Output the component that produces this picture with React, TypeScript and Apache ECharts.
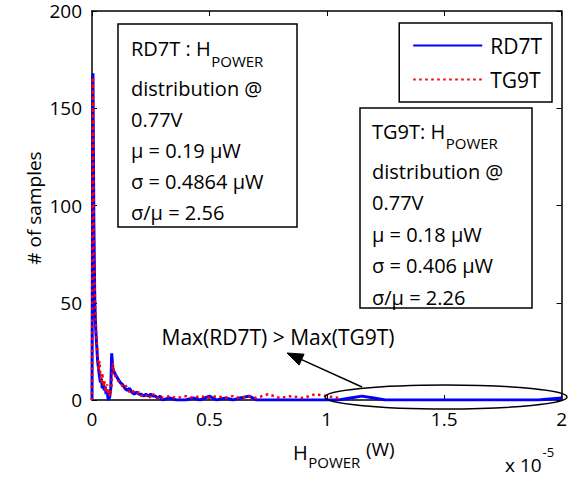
import React, { useEffect, useRef } from "react";
import * as echarts from "echarts";

// H_POWER bins, in units of 1e-5 W
const powerBins = [
  0, 0.004, 0.008, 0.012, 0.016,
  0.02, 0.024, 0.028, 0.032, 0.036,
  0.04, 0.044, 0.048, 0.052, 0.056,
  0.06, 0.064, 0.068, 0.072, 0.076,
  0.08, 0.084, 0.088, 0.092, 0.096,
  0.1, 0.11, 0.12, 0.13, 0.14,
  0.15, 0.16, 0.17, 0.18, 0.19,
  0.2, 0.21, 0.22, 0.23, 0.24,
  0.25, 0.26, 0.27, 0.28, 0.29,
  0.3, 0.33, 0.36, 0.4, 0.43,
  0.46, 0.5, 0.53, 0.57, 0.6,
  0.63, 0.67, 0.7, 0.75, 0.8,
  0.85, 0.9, 0.95, 1.0, 1.05,
  1.1, 1.15, 1.2, 1.25, 1.3,
  1.4, 1.5, 1.6, 1.7, 1.8,
  1.9, 1.95, 2.0,
];

// # of samples, RD7T
const rd7tCounts = [
  0, 168, 90, 50, 36,
  28, 20, 16, 12, 9,
  11, 6, 9, 5, 7,
  3, 5, 1, 0, 2,
  6, 24, 17, 15, 14,
  13, 11, 9, 8, 6,
  5, 6, 4, 3, 4,
  3, 3, 2, 3, 2,
  3, 2, 2, 1, 2,
  0, 1, 0, 0, 1,
  0, 2, 0, 1, 0,
  1, 2, 0, 0, 0,
  0, 0, 0, 0, 0,
  1, 2, 1, 0, 0,
  0, 0, 0, 0, 0,
  0, 0.5, 1,
];

// # of samples, TG9T (ends near 1.05e-5 W)
const tg9tCounts = [
  0, 166, 85, 55, 40,
  30, 24, 15, 20, 12,
  9, 14, 7, 10, 6,
  4, 8, 3, 5, 2,
  4, 8, 19, 16, 13,
  12, 10, 9, 7, 8,
  6, 4, 5, 4, 3,
  4, 2, 3, 2, 3,
  1, 3, 2, 1, 2,
  1, 2, 1, 2, 1,
  2, 1, 2, 1, 2,
  1, 2, 1, 3, 1,
  2, 1, 3, 2, 1,
];

const xTicks = [0, 0.5, 1, 1.5, 2];
const yTicks = [0, 50, 100, 150, 200];

const rd7tInfo = ["distribution @", "0.77V", "\u03bc = 0.19 \u03bcW", "\u03c3 = 0.4864 \u03bcW", "\u03c3/\u03bc = 2.56"];
const tg9tInfo = ["distribution @", "0.77V", "\u03bc = 0.18 \u03bcW", "\u03c3 = 0.406 \u03bcW", "\u03c3/\u03bc = 2.26"];

const FONT = '"Open Sans", sans-serif';

function measure(text: string, size: number): number {
  const ctx = document.createElement("canvas").getContext("2d");
  if (!ctx) return text.length * size * 0.55;
  ctx.font = `${size}px ${FONT}`;
  return ctx.measureText(text).width;
}

function txt(text: string, x: number, y: number, size: number, align = "left") {
  return {
    type: "text",
    x,
    y,
    z: 100,
    style: {
      text,
      fontSize: size,
      fontFamily: FONT,
      fill: "#000",
      align,
      verticalAlign: "middle",
      textAlign: align,
      textVerticalAlign: "middle",
    },
  };
}

function withSub(main: string, sub: string, x: number, y: number, size: number, subSize: number, subDy: number) {
  const w = measure(main, size);
  return [txt(main, x, y, size), txt(sub, x + w + 0.5, y + subDy, subSize)];
}

function infoBox(title: string, lines: string[], bx: number, by: number, bw: number, bh: number, tx: number, y0: number, dy: number, firstGap: number) {
  const els: any[] = [
    {
      type: "rect",
      z: 90,
      shape: { x: bx, y: by, width: bw, height: bh },
      style: { fill: "#fff", stroke: "#000", lineWidth: 1.5 },
    },
    ...withSub(title, "POWER", tx, y0, 20, 15, 12),
  ];
  lines.forEach((l, i) => {
    els.push(txt(l, tx, y0 + firstGap + i * dy, 20));
  });
  return els;
}

export default function App() {
  const ref = useRef<HTMLDivElement>(null);
  useEffect(() => {
    if (!ref.current) return;
    const chart = echarts.init(ref.current, null, { renderer: "svg" });

    const axisCommon = {
      type: "value",
      splitLine: { show: false },
      axisLine: { show: true, onZero: false, lineStyle: { color: "#000", width: 1.5 } },
      axisTick: { show: true, inside: true, length: 5, lineStyle: { color: "#000", width: 1 } },
    };

    // arrow geometry
    const tip = [287, 353];
    const tail = [362, 387];
    const dx = tip[0] - tail[0];
    const dy = tip[1] - tail[1];
    const len = Math.sqrt(dx * dx + dy * dy);
    const ux = dx / len;
    const uy = dy / len;
    const hl = 16;
    const hw = 6;
    const bxp = tip[0] - ux * hl;
    const byp = tip[1] - uy * hl;
    const head = [
      tip,
      [bxp + -uy * hw, byp + ux * hw],
      [bxp - -uy * hw, byp - ux * hw],
    ];

    const hx = 293;
    const hW = measure("H", 20);
    const pW = measure("POWER", 15);
    const tenW = measure("x 10", 19);

    const option: any = {
      animation: false,
      backgroundColor: "#fff",
      textStyle: { fontFamily: FONT },
      grid: { left: 92, right: 7, top: 11, bottom: 77, show: false },
      legend: {
        show: true,
        orient: "vertical",
        right: 18,
        top: 23,
        itemWidth: 69,
        itemHeight: 20,
        itemGap: 13,
        padding: [12, 10, 12, 13],
        borderColor: "#000",
        borderWidth: 1.5,
        backgroundColor: "#fff",
        z: 100,
        itemStyle: { color: "rgba(0,0,0,0)", borderWidth: 0, opacity: 0 },
        textStyle: { fontSize: 21, fontFamily: FONT, color: "#000", padding: [0, 0, 0, 3] },
        data: ["RD7T", "TG9T"],
      },
      xAxis: [
        {
          ...axisCommon,
          position: "bottom",
          min: 0,
          max: 2,
          interval: 0.5,
          axisLabel: {
            show: true,
            color: "#000",
            fontSize: 19,
            fontFamily: FONT,
            margin: 9,
            formatter: (v: number) => (xTicks.includes(v) ? String(v) : ""),
          },
        },
        {
          ...axisCommon,
          position: "top",
          min: 0,
          max: 2,
          interval: 0.5,
          axisLabel: { show: false },
        },
      ],
      yAxis: [
        {
          ...axisCommon,
          position: "left",
          min: 0,
          max: 200,
          interval: 50,
          axisLabel: {
            show: true,
            color: "#000",
            fontSize: 19,
            lineHeight: 16,
            fontFamily: FONT,
            margin: 10,
            formatter: (v: number) => (yTicks.includes(v) ? String(v) : ""),
          },
        },
        {
          ...axisCommon,
          position: "right",
          min: 0,
          max: 200,
          interval: 50,
          axisLabel: { show: false },
        },
      ],
      series: [
        {
          name: "RD7T",
          type: "line",
          symbol: "none",
          showSymbol: false,
          z: 2,
          data: powerBins.map((x, i) => [x, rd7tCounts[i]]),
          lineStyle: { color: "#0000ff", width: 3 },
          itemStyle: { color: "#0000ff" },
        },
        {
          name: "TG9T",
          type: "line",
          symbol: "none",
          showSymbol: false,
          z: 3,
          data: tg9tCounts.map((y, i) => [powerBins[i], y]),
          lineStyle: { color: "#ff0000", width: 2.5, type: [2.5, 3.5] },
          itemStyle: { color: "#ff0000" },
        },
      ],
      graphic: [
        ...infoBox("RD7T : H", rd7tInfo, 118, 24, 179, 203, 131, 48.5, 31, 40),
        ...infoBox("TG9T: H", tg9tInfo, 360, 108, 172, 200, 372, 131, 31.5, 40),
        {
          type: "ellipse",
          z: 100,
          shape: { cx: 446, cy: 397, rx: 121, ry: 12 },
          style: { fill: "none", stroke: "#000", lineWidth: 1.5 },
        },
        {
          type: "line",
          z: 100,
          shape: { x1: tail[0], y1: tail[1], x2: bxp, y2: byp },
          style: { stroke: "#000", lineWidth: 1.5 },
        },
        {
          type: "polygon",
          z: 100,
          shape: { points: head },
          style: { fill: "#000", stroke: "#000", lineWidth: 1 },
        },
        txt("Max(RD7T) > Max(TG9T)", 278, 337, 21, "center"),
        // y axis title
        {
          type: "text",
          x: 34,
          y: 208,
          rotation: Math.PI / 2,
          z: 100,
          style: {
            text: "# of samples",
            fontSize: 19,
            fontFamily: FONT,
            fill: "#000",
            align: "center",
            verticalAlign: "middle",
            textAlign: "center",
            textVerticalAlign: "middle",
          },
        },
        // x axis title
        txt("H", hx, 452, 20),
        txt("POWER", hx + hW + 0.5, 462, 15),
        txt("(W)", hx + hW + pW + 6, 449, 19),
        txt("x 10", 505, 465, 19),
        txt("-5", 505 + tenW + 1, 452, 13),
      ],
    };

    chart.setOption(option);
    return () => chart.dispose();
  }, []);

  return <div ref={ref} style={{ position: "absolute", left: 0, top: 0, width: 570, height: 477 }} />;
}
